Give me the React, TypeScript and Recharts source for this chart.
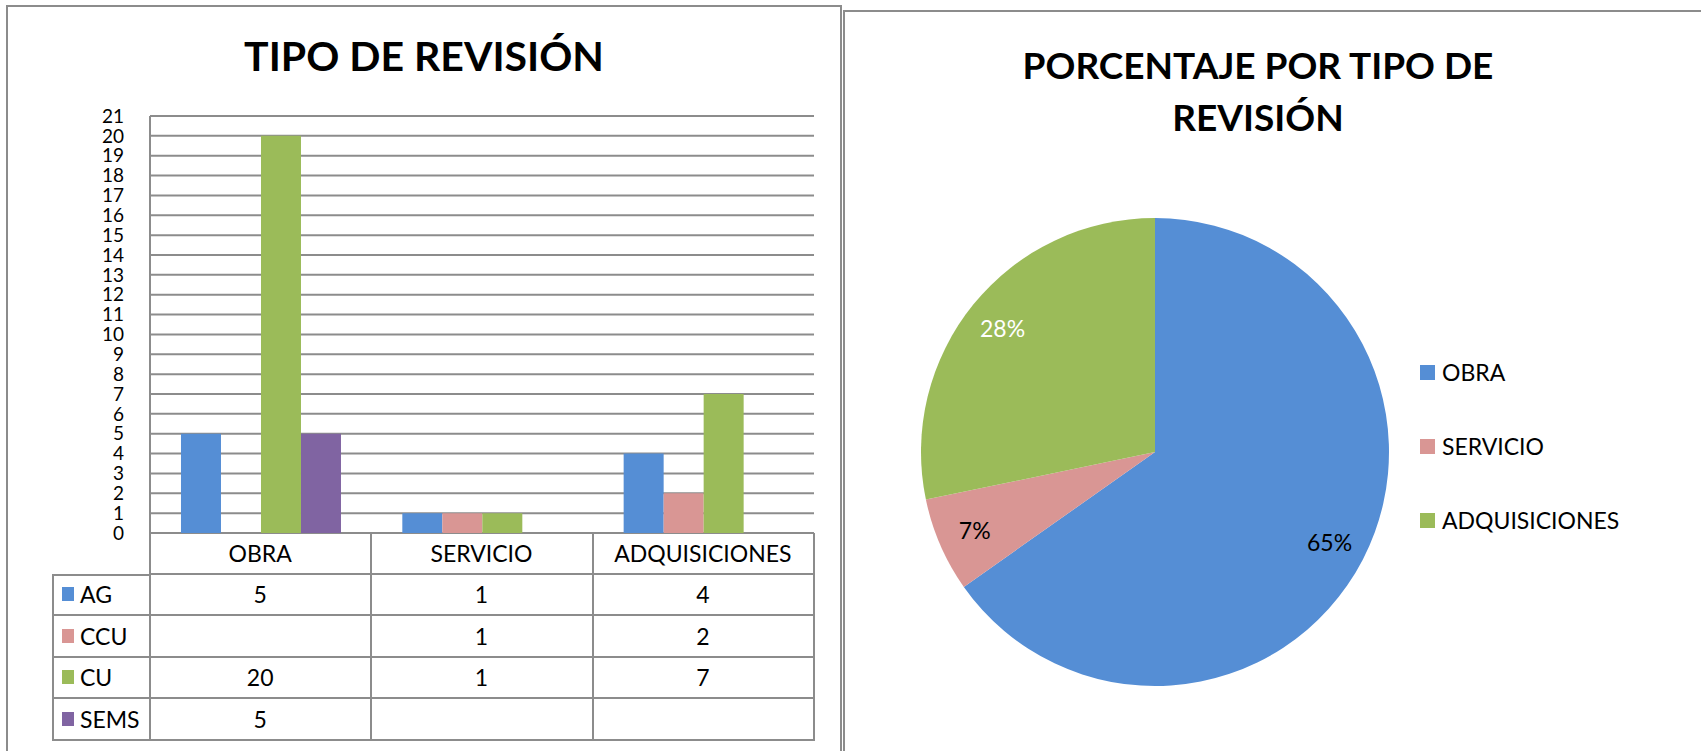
import { Bar, BarChart, CartesianGrid, Cell, Legend, Pie, PieChart, XAxis, YAxis } from "recharts";

const categories = ["OBRA", "SERVICIO", "ADQUISICIONES"];
const seriesNames = ["AG", "CCU", "CU", "SEMS"];
const agValues: (number | null)[] = [5, 1, 4];
const ccuValues: (number | null)[] = [null, 1, 2];
const cuValues: (number | null)[] = [20, 1, 7];
const semsValues: (number | null)[] = [5, null, null];
const yTicks = [0, 1, 2, 3, 4, 5, 6, 7, 8, 9, 10, 11, 12, 13, 14, 15, 16, 17, 18, 19, 20, 21];

const barTitle = "TIPO DE REVISIÓN";
const pieTitle = ["PORCENTAJE POR TIPO DE", "REVISIÓN"];

const colors: Record<string, string> = {
  AG: "#558ed5",
  CCU: "#d99694",
  CU: "#9bbb59",
  SEMS: "#8064a2",
};
const pieColors = ["#558ed5", "#d99694", "#9bbb59"];
const pieLabelColors = ["#000", "#000", "#fff"];

const FONT = "Lato, 'Open Sans', sans-serif";
const GRID = "#8c8c8c";

const seriesValues: Record<string, (number | null)[]> = {
  AG: agValues,
  CCU: ccuValues,
  CU: cuValues,
  SEMS: semsValues,
};

const barData = categories.map((name, i) => ({
  name,
  AG: agValues[i],
  CCU: ccuValues[i],
  CU: cuValues[i],
  SEMS: semsValues[i],
}));

const pieData = categories.map((name, i) => ({
  name,
  value: seriesNames.reduce((s, k) => s + (seriesValues[k][i] ?? 0), 0),
}));

// plot box of the bar chart, page pixels
const PLOT_LEFT = 150;
const PLOT_RIGHT = 814;
const PLOT_TOP = 116;
const PLOT_BOTTOM = 533;
const COL_W = (PLOT_RIGHT - PLOT_LEFT) / categories.length;
const LEG_LEFT = 52;
const ROW_H = 41.5;

const RADIAN = Math.PI / 180;

function PieLabel(props: any) {
  const { cx, cy, midAngle, outerRadius, percent, index } = props;
  const r = outerRadius * 0.84;
  const x = cx + r * Math.cos(-midAngle * RADIAN);
  const y = cy + r * Math.sin(-midAngle * RADIAN);
  return (
    <text
      x={x}
      y={y}
      textAnchor="middle"
      dominantBaseline="central"
      fill={pieLabelColors[index]}
      fontSize={23}
      fontFamily={FONT}
    >
      {`${Math.round(percent * 100)}%`}
    </text>
  );
}

// legend keeps the data order (Recharts would sort by name)
function PieLegend() {
  return (
    <div style={{ display: "flex", flexDirection: "column" }}>
      {pieData.map((d, i) => (
        <div key={d.name} style={{ height: 74, display: "flex", alignItems: "center", gap: 7 }}>
          <span style={{ width: 15, height: 15, background: pieColors[i], display: "inline-block" }} />
          <span style={{ fontFamily: FONT, fontSize: 23, color: "#000" }}>{d.name}</span>
        </div>
      ))}
    </div>
  );
}

function cell(left: number, top: number, width: number, extra: React.CSSProperties = {}) {
  return {
    position: "absolute" as const,
    left,
    top,
    width,
    height: ROW_H,
    boxSizing: "border-box" as const,
    borderRight: `2px solid ${GRID}`,
    borderBottom: `2px solid ${GRID}`,
    display: "flex",
    alignItems: "center",
    justifyContent: "center",
    fontFamily: FONT,
    fontSize: 23,
    color: "#000",
    ...extra,
  };
}

function DataTable() {
  const rows = [];
  categories.forEach((c, i) => {
    rows.push(
      <div key={"h" + c} style={cell(PLOT_LEFT + i * COL_W, PLOT_BOTTOM, COL_W + 1)}>
        {c}
      </div>
    );
  });
  seriesNames.forEach((s, r) => {
    const top = PLOT_BOTTOM + ROW_H * (r + 1);
    rows.push(
      <div
        key={"l" + s}
        style={cell(LEG_LEFT, top, PLOT_LEFT - LEG_LEFT + 1, {
          justifyContent: "flex-start",
          paddingLeft: 8,
          borderLeft: `2px solid ${GRID}`,
          gap: 6,
        })}
      >
        <span style={{ width: 12, height: 14, background: colors[s], display: "inline-block" }} />
        {s}
      </div>
    );
    categories.forEach((c, i) => {
      const v = seriesValues[s][i];
      rows.push(
        <div key={s + c} style={cell(PLOT_LEFT + i * COL_W, top, COL_W + 1)}>
          {v ?? ""}
        </div>
      );
    });
  });
  return (
    <>
      <div
        style={{
          position: "absolute",
          left: LEG_LEFT,
          top: PLOT_BOTTOM + ROW_H - 1,
          width: PLOT_LEFT - LEG_LEFT,
          borderTop: `2px solid ${GRID}`,
        }}
      />
      <div
        style={{
          position: "absolute",
          left: PLOT_LEFT - 1,
          top: PLOT_BOTTOM,
          height: ROW_H * 5,
          borderLeft: `2px solid ${GRID}`,
        }}
      />
      {rows}
    </>
  );
}

export default function App() {
  return (
    <div
      style={{
        position: "absolute",
        left: 0,
        top: 0,
        width: 1701,
        height: 751,
        overflow: "hidden",
        background: "#fff",
      }}
    >
      {/* left panel */}
      <div
        style={{
          position: "absolute",
          left: 6,
          top: 5,
          width: 836,
          height: 800,
          border: `2px solid ${GRID}`,
          boxSizing: "border-box",
        }}
      />
      {/* right panel */}
      <div
        style={{
          position: "absolute",
          left: 843,
          top: 10,
          width: 900,
          height: 800,
          border: `2px solid ${GRID}`,
          boxSizing: "border-box",
        }}
      />

      <div
        style={{
          position: "absolute",
          left: 0,
          width: 848,
          top: 30,
          textAlign: "center",
          fontFamily: FONT,
          fontWeight: 700,
          fontSize: 41,
          lineHeight: "52px",
          whiteSpace: "nowrap",
          color: "#000",
        }}
      >
        {barTitle}
      </div>

      <div style={{ position: "absolute", left: 0, top: 0 }}>
        <BarChart
          width={842}
          height={560}
          data={barData}
          margin={{ top: PLOT_TOP, right: 842 - PLOT_RIGHT, bottom: 560 - PLOT_BOTTOM, left: PLOT_LEFT - 50 }}
          barGap={0}
          barCategoryGap="14%"
        >
          <CartesianGrid vertical={false} stroke={GRID} strokeWidth={2} />
          <XAxis dataKey="name" hide />
          <YAxis
            width={50}
            domain={[0, 21]}
            ticks={yTicks}
            interval={0}
            axisLine={{ stroke: GRID, strokeWidth: 2 }}
            tickLine={false}
            tickMargin={20}
            tick={{ fill: "#000", fontSize: 19, fontFamily: FONT }}
          />
          {seriesNames.map((s) => (
            <Bar key={s} dataKey={s} fill={colors[s]} isAnimationActive={false} />
          ))}
        </BarChart>
      </div>

      <DataTable />

      {pieTitle.map((line, i) => (
        <div
          key={line}
          style={{
            position: "absolute",
            left: 958,
            width: 600,
            top: 39 + i * 52,
            textAlign: "center",
            fontFamily: FONT,
            fontWeight: 700,
            fontSize: 37,
            lineHeight: "52px",
            whiteSpace: "nowrap",
            color: "#000",
          }}
        >
          {line}
        </div>
      ))}

      <div style={{ position: "absolute", left: 842, top: 0 }}>
        <PieChart width={859} height={751} margin={{ top: 0, right: 0, bottom: 0, left: 0 }}>
          <Pie
            data={pieData}
            dataKey="value"
            nameKey="name"
            cx={313}
            cy={452}
            outerRadius={234}
            startAngle={90}
            endAngle={-270}
            stroke="none"
            labelLine={false}
            label={PieLabel}
            isAnimationActive={false}
          >
            {pieData.map((d, i) => (
              <Cell key={d.name} fill={pieColors[i]} />
            ))}
          </Pie>
          <Legend
            content={<PieLegend />}
            wrapperStyle={{ position: "absolute", left: 578, top: 335, width: 280, bottom: "auto" }}
          />
        </PieChart>
      </div>
    </div>
  );
}
